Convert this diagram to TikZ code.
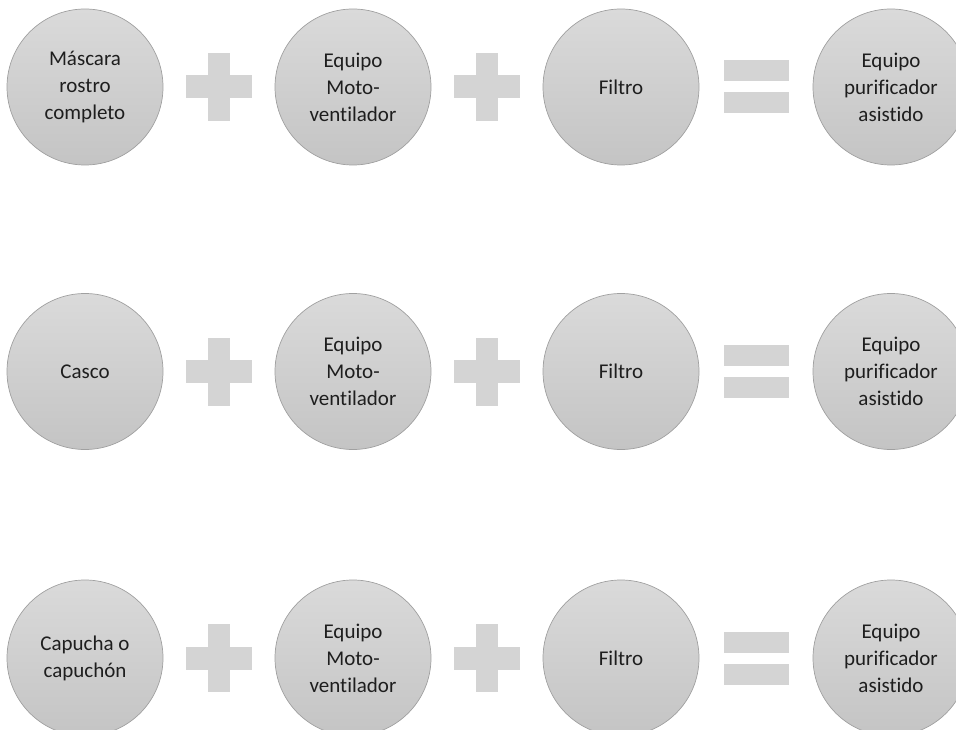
\documentclass[tikz,border=0pt]{standalone}
\usepackage{fontspec}
\setmainfont{Carlito}[Ligatures=NoCommon]
\definecolor{circtop}{RGB}{218,218,218}
\definecolor{circbot}{RGB}{196,196,196}
\definecolor{circline}{RGB}{160,160,160}
\definecolor{signfill}{RGB}{212,212,212}
\definecolor{txt}{RGB}{30,30,30}
\begin{document}
\begin{tikzpicture}[x=1pt,y=-1pt,
  item/.style={circle, minimum size=156pt, inner sep=0pt, draw=circline, line width=0.7pt,
    top color=circtop, bottom color=circbot, text=txt, align=center,
    font=\fontsize{21}{27}\selectfont},
  pics/plussign/.style={code={
    \fill[signfill] (-33,-11.5) rectangle (33,11.5);
    \fill[signfill] (-11,-34) rectangle (11,34);}},
  pics/equalsign/.style={code={
    \fill[signfill] (-32.5,-26.5) rectangle (32.5,-5.5);
    \fill[signfill] (-32.5,5.5) rectangle (32.5,26.5);}}]
\useasboundingbox (0,0) rectangle (956,730);
\foreach \r/\y/\first in {1/87/{Máscara\\rostro\\completo}, 2/371.5/{Casco}, 3/658/{Capucha o\\capuchón}}{
  \node[item] (a\r) at (85,\y) {\first};
  \node[item] (b\r) at (353,\y) {Equipo\\Moto-\\ventilador};
  \node[item] (c\r) at (621,\y) {Filtro};
  \node[item] (d\r) at (891,\y) {Equipo\\purificador\\asistido};
  \pic at (219,\y) {plussign};
  \pic at (487,\y) {plussign};
  \pic at (756,\y) {equalsign};
}
\end{tikzpicture}
\end{document}
